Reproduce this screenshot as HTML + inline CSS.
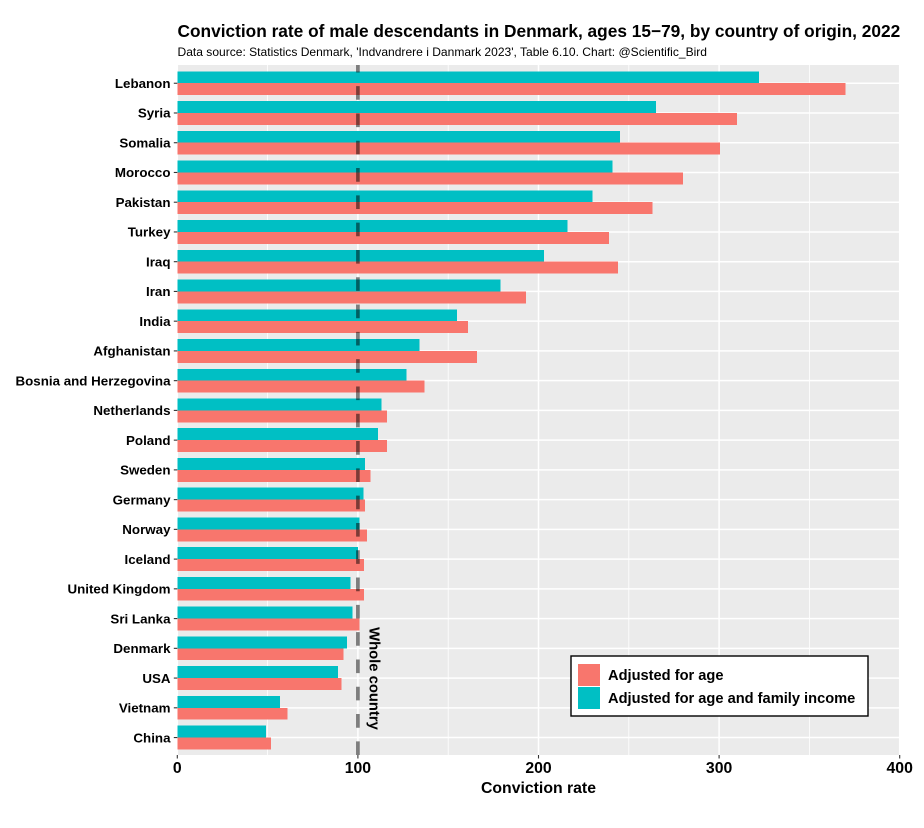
<!DOCTYPE html>
<html lang="en">
<head>
<meta charset="utf-8">
<title>Conviction rate of male descendants in Denmark</title>
<style>
html,body{margin:0;padding:0;background:#fff;}
svg{display:block;font-family:"Liberation Sans",Arial,sans-serif;}
text{fill:#000;}
</style>
</head>
<body>
<svg id="chart" xmlns="http://www.w3.org/2000/svg" width="924" height="828" viewBox="0 0 924 828">
  <rect x="0" y="0" width="924" height="828" fill="#fff"/>
  <text x="177.5" y="37" font-size="17.3" font-weight="bold">Conviction rate of male descendants in Denmark, ages 15−79, by country of origin, 2022</text>
  <text x="177.5" y="56" font-size="12.05">Data source: Statistics Denmark, 'Indvandrere i Danmark 2023', Table 6.10. Chart: @Scientific_Bird</text>
  <rect x="177.3" y="65" width="722.4" height="690" fill="#ebebeb"/>
  <g id="grid"></g>
  <g id="bars"></g>
  <g id="refline"></g>
  <g id="yaxis"></g>
  <g id="xaxis"></g>
  <text x="538.5" y="793" font-size="15.8" font-weight="bold" text-anchor="middle">Conviction rate</text>
  <text transform="translate(369.5,678.5) rotate(90)" font-size="14.8" font-weight="bold" text-anchor="middle">Whole country</text>
  <g>
    <rect x="571" y="656" width="297" height="60" fill="#fff" stroke="#000" stroke-width="1.4"/>
    <rect x="578" y="664" width="22" height="22" fill="#F8766D"/>
    <rect x="578" y="687" width="22" height="22" fill="#00BFC4"/>
    <text x="608" y="680" font-size="14.65" font-weight="bold">Adjusted for age</text>
    <text x="608" y="703" font-size="14.65" font-weight="bold">Adjusted for age and family income</text>
  </g>
</svg>
<script>
const categories = ["Lebanon","Syria","Somalia","Morocco","Pakistan","Turkey","Iraq","Iran","India","Afghanistan","Bosnia and Herzegovina","Netherlands","Poland","Sweden","Germany","Norway","Iceland","United Kingdom","Sri Lanka","Denmark","USA","Vietnam","China"];
const adjustedAge = [370,310,300.5,280,263,239,244,193,161,166,137,116,116,107,104,105,103.5,103.5,101,92,91,61,52];
const adjustedAgeIncome = [322,265,245,241,230,216,203,179,155,134,127,113,111,104,103,101,100,96,97,94,89,57,49];
const xTicks = [0,100,200,300,400];
const xMinorTicks = [50,150,250,350];
const wholeCountry = [100];

const NS = "http://www.w3.org/2000/svg";
const PANEL = {left:177.3, right:899.7, top:65, bottom:755};
const X_MAX = 400;
const STEP = (PANEL.bottom - PANEL.top) / (categories.length + 0.2);

function xScale(v){ return PANEL.left + v / X_MAX * (PANEL.right - PANEL.left); }
function yScale(i){ return PANEL.top + 0.4 + STEP * (0.6 + i); }
function make(tag, attrs, parent){
  const el = document.createElementNS(NS, tag);
  for (const k in attrs) el.setAttribute(k, attrs[k]);
  parent.appendChild(el);
  return el;
}

const grid = document.getElementById("grid");
const bars = document.getElementById("bars");
const yaxis = document.getElementById("yaxis");
const xaxis = document.getElementById("xaxis");
const refline = document.getElementById("refline");

xMinorTicks.forEach(function(t){
  const el = make("line", {x1:xScale(t), x2:xScale(t), y1:PANEL.top, y2:PANEL.bottom, stroke:"#fff", "stroke-width":0.8}, grid);
  
  
});
xTicks.forEach(function(t){
  const el = make("line", {x1:xScale(t), x2:xScale(t), y1:PANEL.top, y2:PANEL.bottom, stroke:"#fff", "stroke-width":1.5}, grid);
  
  
});
categories.forEach(function(c, i){
  const el = make("line", {x1:PANEL.left, x2:PANEL.right, y1:yScale(i), y2:yScale(i), stroke:"#fff", "stroke-width":1.5}, grid);
  
  
});

const barHalf = STEP * 0.4;
categories.forEach(function(c, i){
  const cy = yScale(i);
  const top = make("rect", {x:xScale(0), y:cy - barHalf, width:xScale(adjustedAgeIncome[i]) - xScale(0), height:barHalf, fill:"#00BFC4", "shape-rendering":"crispEdges"}, bars);
  
  
  const bot = make("rect", {x:xScale(0), y:cy, width:xScale(adjustedAge[i]) - xScale(0), height:barHalf, fill:"#F8766D", "shape-rendering":"crispEdges"}, bars);
  
  

  const tick = make("line", {x1:PANEL.left - 3.5, x2:PANEL.left, y1:cy, y2:cy, stroke:"#333", "stroke-width":1.1}, yaxis);
  
  
  const lab = make("text", {x:170.5, y:cy + 4.7, "font-size":13.35, "font-weight":"bold", "text-anchor":"end"}, yaxis);
  
  
  lab.textContent = c;
});

xTicks.forEach(function(t){
  const tick = make("line", {x1:xScale(t), x2:xScale(t), y1:PANEL.bottom, y2:PANEL.bottom + 3.5, stroke:"#333", "stroke-width":1.1}, xaxis);
  
  
  const lab = make("text", {x:xScale(t), y:773, "font-size":15.8, "font-weight":"bold", "text-anchor":"middle"}, xaxis);
  
  
  lab.textContent = String(t);
});

wholeCountry.forEach(function(v){
  const el = make("line", {x1:xScale(v), x2:xScale(v), y1:PANEL.bottom, y2:PANEL.top, stroke:"#000", "stroke-opacity":0.5, "stroke-width":3.6, "stroke-dasharray":"13.65 13.65"}, refline);
  
  
});
</script>
</body>
</html>
